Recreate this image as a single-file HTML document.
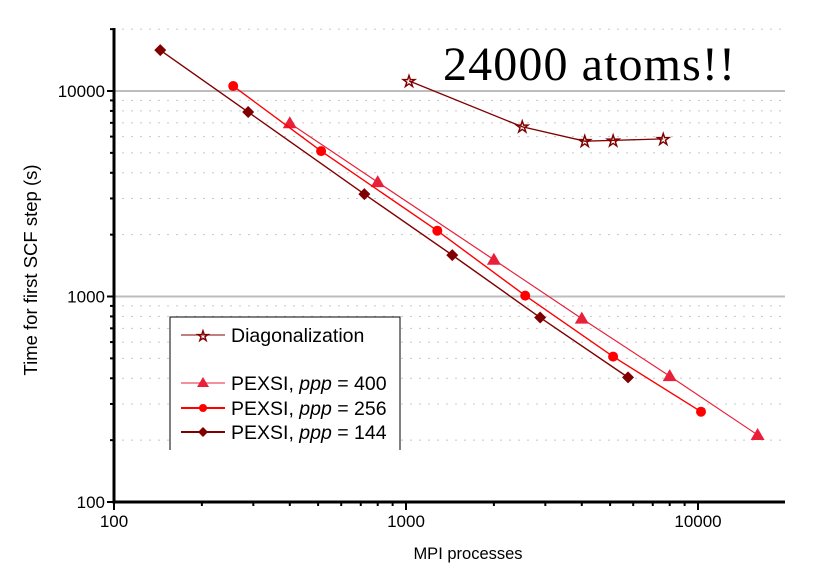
<!DOCTYPE html>
<html><head><meta charset="utf-8"><style>
html,body{margin:0;padding:0;background:#fff;}
svg{display:block;font-family:"Liberation Sans",sans-serif;}
</style></head><body>
<svg id="chart" width="817" height="577" viewBox="0 0 817 577">
<g id="grid"></g>
<g id="series"></g>
<g id="axes"></g>
<text x="443" y="80" font-family="Liberation Serif, serif" font-size="48" textLength="292">24000 atoms!!</text>
<text x="468" y="559" font-size="16.5" text-anchor="middle">MPI processes</text>
<text transform="translate(37,270) rotate(-90)" font-size="18.5" text-anchor="middle">Time for first SCF step (s)</text>
<g>
<path d="M170,450 V317 H400 V450" fill="#fff" stroke="#000" stroke-width="1"/>
<g>
<line x1="181" y1="335" x2="225" y2="335" stroke="#800000" stroke-width="1"/>
<text x="203" y="341" font-size="15" fill="#fff" stroke="#800000" text-anchor="middle">☆</text>
<text x="231" y="342" font-size="19.5">Diagonalization</text></g>
<g>
<line x1="181" y1="383" x2="225" y2="383" stroke="#e8203a" stroke-width="1"/>
<path d="M203,377 L209,387 H197 Z" fill="#e8203a"/>
<text x="231" y="390" font-size="19.5">PEXSI, <tspan font-style="italic">ppp</tspan> = 400</text></g>
<g>
<line x1="181" y1="408" x2="225" y2="408" stroke="#ff0000" stroke-width="2"/>
<circle cx="203" cy="408" r="4" fill="#ff0000"/>
<text x="231" y="415" font-size="19.5">PEXSI, <tspan font-style="italic">ppp</tspan> = 256</text></g>
<g>
<line x1="181" y1="432" x2="225" y2="432" stroke="#800000" stroke-width="2"/>
<path d="M203,427 L208,432 L203,437 L198,432 Z" fill="#800000"/>
<text x="231" y="439" font-size="19.5">PEXSI, <tspan font-style="italic">ppp</tspan> = 144</text></g>
</g>
</svg>
<script>
const xTicks=[100,1000,10000];
const yTicks=[100,1000,10000];
const diagX=[1024,2500,4096,5120,7600];
const diagY=[11200,6700,5700,5750,5850];
const p400X=[400,800,2000,4000,8000,16000];
const p400Y=[6970,3600,1510,780,410,212];
const p256X=[256,512,1280,2560,5120,10240];
const p256Y=[10570,5100,2090,1010,510,275];
const p144X=[144,288,720,1440,2880,5760];
const p144Y=[15800,7900,3150,1590,790,404];

const X0=114,X1=785,Y0=502,Y1=28;
const xs=v=>114+(Math.log10(v)-2)*292;
const ys=v=>502-(Math.log10(v)-2)*205.5;
const NS='http://www.w3.org/2000/svg';
function mk(tag,parent,attrs){const e=document.createElementNS(NS,tag);for(const k in attrs)e.setAttribute(k,attrs[k]);parent.appendChild(e);return e;}
const grid=document.getElementById('grid'),axes=document.getElementById('axes'),ser=document.getElementById('series');
for(let d=100;d<=10000;d*=10){for(let m=1;m<10;m++){const v=d*m;const y=ys(v);if(y<Y1)continue;
 if(m===1){if(v>100){const l=mk('line',grid,{x1:X0,x2:X1,y1:y,y2:y,stroke:'#bdbdbd','stroke-width':2});

}}
 else{const l=mk('line',grid,{x1:X0+8,x2:X1,y1:y,y2:y,stroke:'#c8c8c8','stroke-width':1,'stroke-dasharray':'2 7'});

}
 const t=mk('line',axes,{x1:X0-(m===1?7:4),x2:X0,y1:y,y2:y,stroke:'#000','stroke-width':2});
 
 }}
for(let d=100;d<=10000;d*=10){for(let m=1;m<10;m++){const v=d*m;const x=xs(v);if(x>X1)continue;
 const t=mk('line',axes,{x1:x,x2:x,y1:Y0,y2:Y0+(m===1?8:4),stroke:'#000','stroke-width':2});
 
 }}
const ax=mk('path',axes,{d:`M${X0},${Y1} V${Y0} H${X1}`,fill:'none',stroke:'#000','stroke-width':3});


xTicks.forEach(v=>{const t=mk('text',axes,{x:xs(v),y:527,'font-size':17,'text-anchor':'middle'});t.textContent=v;

});
yTicks.forEach(v=>{const t=mk('text',axes,{x:X0-9,y:ys(v)+6,'font-size':17,'text-anchor':'end'});t.textContent=v;

});
function series(name,X,Y,color,w,marker){
 const g=mk('g',ser,{});
 
 
 const pts=X.map((x,i)=>xs(x)+','+ys(Y[i])).join(' ');
 mk('polyline',g,{points:pts,fill:'none',stroke:color,'stroke-width':w});
 X.forEach((x,i)=>{const cx=xs(x),cy=ys(Y[i]);let m;
  if(marker==='star'){m=mk('text',g,{x:cx,y:cy+6,'font-size':17,'text-anchor':'middle',fill:'#fff',stroke:color,'stroke-width':1});m.textContent='☆';}
  else if(marker==='tri')m=mk('path',g,{d:`M${cx},${cy-7} L${cx+7},${cy+5} H${cx-7} Z`,fill:color});
  else if(marker==='circle')m=mk('circle',g,{cx:cx,cy:cy,r:5,fill:color});
  else m=mk('path',g,{d:`M${cx},${cy-6} L${cx+6},${cy} L${cx},${cy+6} L${cx-6},${cy} Z`,fill:color});
  
  });
}
series('series-diagonalization',diagX,diagY,'#800000',1.3,'star');
series('series-ppp-400',p400X,p400Y,'#e8203a',1.2,'tri');
series('series-ppp-256',p256X,p256Y,'#ff0000',1.4,'circle');
series('series-ppp-144',p144X,p144Y,'#800000',1.4,'diamond');
</script>
</body></html>
